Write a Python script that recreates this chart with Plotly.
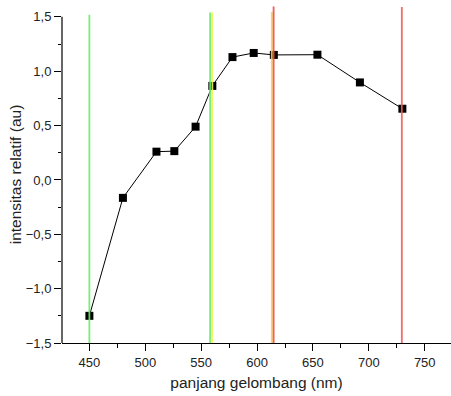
import plotly.graph_objects as go

# data
wavelength = [450, 480, 510, 526, 545, 560, 578, 597, 615, 654, 692, 730]
intensity = [-1.25, -0.165, 0.26, 0.265, 0.49, 0.865, 1.13, 1.168, 1.15, 1.152, 0.897, 0.655]

# reference spectral lines (x position, top value)
line_x = [450, 558, 560, 613.2, 614.8, 729.5]
line_top = [1.52, 1.54, 1.54, 1.545, 1.595, 1.59]
line_colors = ["rgb(100,240,100)", "rgb(100,240,100)", "rgb(245,245,90)",
               "rgb(250,210,70)", "rgb(240,75,75)", "rgb(245,90,90)"]

y_ticks = [-1.5, -1.0, -0.5, 0.0, 0.5, 1.0, 1.5]
x_ticks = [450, 500, 550, 600, 650, 700, 750]

fig = go.Figure()
fig.add_trace(go.Scatter(
    x=wavelength, y=intensity, mode="lines+markers",
    line=dict(color="black", width=1),
    marker=dict(symbol="square", size=8, color="black"),
    showlegend=False,
))

shapes = []
for xv, top, col in zip(line_x, line_top, line_colors):
    shapes.append(dict(type="line", xref="x", yref="y", x0=xv, x1=xv, y0=y_ticks[0], y1=top,
                       line=dict(color=col, width=1.8), opacity=0.9, layer="above"))
# y axis line from -1.5 to 1.5
shapes.append(dict(type="line", xref="paper", yref="y", x0=0, x1=0, y0=y_ticks[0], y1=y_ticks[-1],
                   line=dict(color="black", width=1.2)))

fig.update_layout(
    width=451, height=396,
    margin=dict(l=62, r=0, t=6, b=53),
    plot_bgcolor="white", paper_bgcolor="white",
    separators=", ",
    font=dict(family="Liberation Sans, Arial, sans-serif", color="#222", size=13),
    shapes=shapes,
    xaxis=dict(
        range=[425.5, 773.5], tickvals=x_ticks, ticks="outside", ticklen=7, tickwidth=1,
        tickcolor="black", showline=True, linecolor="black", linewidth=1.2,
        showgrid=False, zeroline=False,
        minor=dict(dtick=25, tick0=425, ticks="outside", ticklen=3.5, tickcolor="black"),
        title=dict(text="panjang gelombang (nm)", font=dict(size=15.5), standoff=8),
    ),
    yaxis=dict(
        range=[-1.5, 1.6], tickvals=y_ticks, tickformat=".1f", ticks="outside", ticklen=7,
        tickwidth=1, tickcolor="black", showline=False, showgrid=False, zeroline=False,
        minor=dict(tickvals=[-1.25, -0.75, -0.25, 0.25, 0.75, 1.25], ticks="outside",
                   ticklen=3.5, tickcolor="black"),
        title=dict(text="intensitas relatif (au)", font=dict(size=15.5), standoff=0),
    ),
)

fig.write_html("out.html")
